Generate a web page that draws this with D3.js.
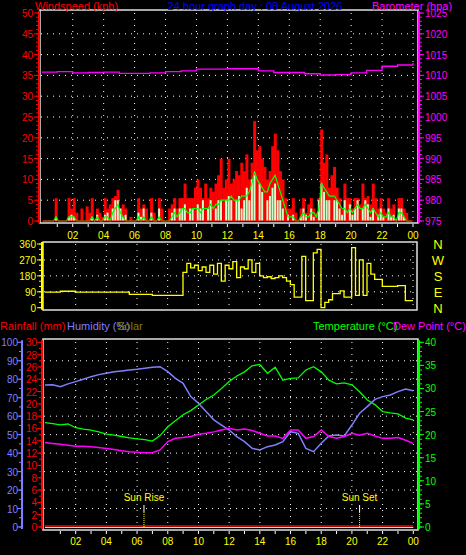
<!DOCTYPE html>
<html><head><meta charset="utf-8">
<script src="https://cdn.jsdelivr.net/npm/d3@7"></script>
<style>body{margin:0;background:#000}svg{display:block}text{font-family:"Liberation Sans",Arial,sans-serif}</style>
</head><body>
<script>
// ---- data ----
const hourLabels = ["02","04","06","08","10","12","14","16","18","20","22","00"];
// wind, 10-minute slots (kph)
const gust = [0,0,0,0,0,5.5, 0,0,0,0,5.5,3, 5.5,2,0,3,0,3.5, 2,5.5,0,3,2,1, 5.5,3,4,5.5,6,7.5, 3,4,3,0,1,0,
 0,5.5,3,4,3,0, 5.5,2,0,5.5,3,0, 0,3,4,5.5,3,5.5, 5.5,9,5.5,5.5,5.5,8, 10,8,5.5,9,5.5,8, 7,9,11,15,8,10,
 15,9,10,12,11,14, 12,16,10,14,24,17, 18,15,13,10,12,18, 21,17,12,10,5.5,3, 3,5.5,2,0,3,5.5, 2,4,5.5,3,2,5.5,
 22,14,16,8,11,13, 8,5.5,3,9,5.5,5.5, 3,5.5,5.5,4,9,5.5, 6,4,9,5.5,3,5.5, 3,2,5.5,3,4,0, 5.5,5.5,3,2,0,0];
const windAvg = [0,0,0,0,0,1, 0,0,0,0,1,1, 1,0,0,0,0,0, 0,1,0,1,0,0, 1,1,0,2,3,4, 2,1,0,0,0,0,
 0,1,0,1,0,0, 1,0,0,1,0,0, 0,0,1,2,1,2, 3,3,2,2,3,3, 3,2,3,3,3,4, 3,4,4,5,5,5,
 5,6,5,5,5,6, 6,6,7,9,12,10, 9,8,7,7,9,10, 11,9,7,5,3,1, 1,1,0,0,1,2, 1,1,2,2,1,3,
 9,8,7,6,6,6, 5,4,3,3,2,3, 2,3,4,3,3,4, 3,2,3,2,1,2, 1,1,2,1,1,0, 2,2,1,0,0,0];
const windSpeed = [0,0,0,0,0,1, 0,0,0,0,1,1.5, 1,0,0,0,0,0, 0,1,0,1.5,0,0, 1.5,2,0,3,5,5, 3,1,1.5,0,0,0,
 0,2,1,3,0,0, 2,0,0,3,0,0, 0,0,2,3,0,3, 3,4,0,3,3,0, 4,3,5,0,3,5, 0,3,5,5,0,5,
 6,5,0,5,6,3, 5,8,5,10,11,0, 9,7,0,5,6,8, 9,5,5,3,0,1.5, 0,1.5,0,0,1,3, 1.5,0,3,1,0,5,
 9,7,5,5,0,5, 5,3,1.5,5,0,4, 1.5,3,5,0,3,5, 4,1,3,0,1.5,3, 1,0,3,1,1.5,0, 3,3,1,0,0,0];
// barometer hourly (hPa)
const pressure = [1010.8,1010.9,1010.6,1010.7,1010.8,1010.5,1010.5,1010.6,1010.9,1011.1,1011.5,1011.5,1011.6,
 1011.6,1011.1,1010.7,1010.7,1010.4,1010.1,1010.2,1010.6,1011.2,1012.2,1012.5,1013.0];
// wind direction, 15-minute slots (deg)
const windDir = [88,88,88,88, 93,93,93,93, 88,88,88,88, 88,88,88,88, 88,88,88,88, 88,88,75,75,
 75,75,75,75, 70,70,70,70, 70,70,70,70, 200,250,225,240, 210,230,200,240, 190,250,150,240,
 220,260,170,230, 220,270,200,250, 180,170,175,165, 170,180,170,150, 130,60,60,290,
 40,40,310,330, 0,30,45,80, 80,95,60,60, 340,70,270,70, 250,190,160,160, 120,120,120,120, 125,125,40,40, 40];
// half-hourly
const temperature = [22.6,22.4,22.1,22.3,21.5,21.2,21.0,20.6,20.1,19.9,19.6,19.3,19.1,18.9,18.6,19.8,21.7,23.0,24.3,25.2,
 26.4,27.6,28.6,30.0,31.5,32.7,33.6,34.9,35.2,33.3,34.6,31.8,32.2,32.3,34.0,34.7,33.6,31.8,31.0,31.2,30.8,29.3,27.5,26.5,25.0,24.7,24.5,23.6,23.2];
const humidity = [76.9,77,76,77.5,78.7,80,81.4,82.5,83.2,84,84.5,85,85.4,86,86.5,86.8,84.1,80.5,77.8,70.6,67,62.5,58,55.2,52.5,
 48.9,46.2,42.6,41.7,43.5,44.4,46.2,51.6,50.7,42.6,40.8,45.3,49.3,49.8,49.3,55.2,61.6,65.2,69.1,70.6,71.5,73.3,74.7,73.8];
const dewPoint = [18.3,18.1,17.9,17.7,17.5,17.5,17.4,17.2,17.0,16.8,16.5,16.3,16.2,16.1,16.1,16.7,18.5,19.2,19.4,19.6,20.1,20.3,20.6,21.0,21.4,
 21.0,21.2,20.9,20.3,19.7,19.7,19.2,21.0,21.0,19.2,19.6,21.0,19.6,19.2,19.6,20.3,19.9,20.3,19.7,19.2,19.2,19.4,18.8,18.1];
const rainfall = [0,0];
const solar = [0,0];

// ---- chart ----
const W=466,H=555;
const svg=d3.select("body").append("svg").attr("width",W).attr("height",H);
const RED="#ff0000",MAG="#ff00ff",BLUE="#0000ff",HUM="#7f7fff",GRN="#00ff00",YEL="#ffff00",LG="#ccffcc",FR="#e0e0e0";
function txt(x,y,s,c,anchor,size){return svg.append("text").attr("x",x).attr("y",y).text(s).attr("fill",c)
  .attr("font-size",size||10).attr("text-anchor",anchor||"start");}
function dotGrid(xs,y0,y1,ys,x0,x1){
  const g=svg.append("g").attr("stroke","#fff").attr("stroke-width",1).attr("stroke-dasharray","1,5");
  xs.forEach(x=>g.append("line").attr("x1",x).attr("x2",x).attr("y1",y0).attr("y2",y1));
  ys.forEach(y=>g.append("line").attr("x1",x0).attr("x2",x1).attr("y1",y).attr("y2",y));
}
function frame(x0,y0,x1,y1){svg.append("rect").attr("x",x0).attr("y",y0).attr("width",x1-x0).attr("height",y1-y0)
  .attr("fill","none").attr("stroke",FR).attr("stroke-width",1.5);}
function vAxis(x,scale,vals,color,side,minor,labelDx){
  svg.append("line").attr("x1",x).attr("x2",x).attr("y1",scale.range()[1]-2).attr("y2",scale.range()[0]+2).attr("stroke",color).attr("stroke-width",2);
  if(minor) minor.forEach(v=>svg.append("line").attr("x1",x+(side<0?-3:0)).attr("x2",x+(side<0?0:3)).attr("y1",scale(v)).attr("y2",scale(v)).attr("stroke",color));
  vals.forEach(v=>{
    svg.append("line").attr("x1",x+(side<0?-5:0)).attr("x2",x+(side<0?0:5)).attr("y1",scale(v)).attr("y2",scale(v)).attr("stroke",color);
    txt(x+labelDx,scale(v)+4,v,color,side<0?"end":"start");
  });
}

// top panel
const xT=d3.scaleLinear([0,24],[41.8,413]);
const yW=d3.scaleLinear([0,50],[221,13]);
const yP=d3.scaleLinear([975,1025],[221,13]);
const gridHours=d3.range(2,25,2);
dotGrid(gridHours.map(xT),13,221,d3.range(5,50,5).map(yW),41,416);
const slot=1/6;
svg.append("g").selectAll("rect").data(gust).join("rect")
  .attr("x",(d,i)=>xT(i*slot)).attr("width",xT(slot)-xT(0)+0.4)
  .attr("y",d=>yW(d)).attr("height",d=>yW(0)-yW(d)).attr("fill",RED);
svg.append("g").selectAll("rect").data(windSpeed).join("rect")
  .attr("x",(d,i)=>xT(i*slot)+0.3).attr("width",xT(slot)-xT(0)-0.6)
  .attr("y",d=>yW(d)).attr("height",d=>yW(0)-yW(d)).attr("fill",LG);
svg.append("path").datum(windAvg).attr("fill","none").attr("stroke",GRN).attr("stroke-width",1.2)
  .attr("d",d3.line().x((d,i)=>xT(i*slot+slot/2)).y(d=>yW(d)));
svg.append("line").attr("x1",xT(0)).attr("x2",xT(24)).attr("y1",yW(0)).attr("y2",yW(0)).attr("stroke",RED);
svg.append("path").datum(pressure).attr("fill","none").attr("stroke",MAG).attr("stroke-width",1.3)
  .attr("d",d3.line().x((d,i)=>xT(i)).y(d=>yP(d)).curve(d3.curveStepAfter));
frame(40,10,418,223);
vAxis(39,yW,d3.range(0,51,5),RED,-1,d3.range(0,51,1),-6);
vAxis(419,yP,d3.range(975,1026,5),MAG,1,d3.range(975,1026,1),6);
d3.range(1,25).forEach(h=>svg.append("line").attr("x1",xT(h)).attr("x2",xT(h)).attr("y1",224).attr("y2",227).attr("stroke","#fff"));
hourLabels.forEach((s,i)=>txt(xT((i+1)*2),239,s,YEL,"middle"));
txt(35,10,"Windspeed (kph)",RED,"start",11);
txt(255,10,"24 hour graph day : 08 August 2026",BLUE,"middle",11);
txt(372,10,"Barometer (hpa)",MAG,"start",11);

// wind direction panel
const xD=d3.scaleLinear([0,24],[45,413]);
const yD=d3.scaleLinear([0,360],[307.7,244]);
dotGrid(gridHours.map(xD),244,308,[90,180,270].map(yD),44,416);
svg.append("path").datum(windDir).attr("fill","none").attr("stroke",YEL).attr("stroke-width",1.3)
  .attr("d",d3.line().x((d,i)=>xD(i*0.25)).y(d=>yD(d)).curve(d3.curveStepAfter));
frame(43,242,417,310);
vAxis(42,yD,[0,90,180,270,360],YEL,-1,d3.range(0,361,30),-6);
["N","W","S","E","N"].forEach((s,i)=>txt(438,249+i*16,s,YEL,"middle",13));

// bottom panel
const xB=d3.scaleLinear([0,24],[45,413.3]);
const yT=d3.scaleLinear([0,40],[527,342.3]);
const yH=d3.scaleLinear([0,100],[527,342.3]);
const yR=d3.scaleLinear([0,30],[527,342.3]);
dotGrid(gridHours.map(xB),342,527,d3.range(10,100,10).map(yH),44,417);
const half=d3.line().x((d,i)=>xB(i*0.5)).y(d=>yT(d));
svg.append("path").datum(temperature).attr("fill","none").attr("stroke",GRN).attr("stroke-width",1.3).attr("d",half);
svg.append("path").datum(humidity).attr("fill","none").attr("stroke",HUM).attr("stroke-width",1.5)
  .attr("d",d3.line().x((d,i)=>xB(i*0.5)).y(d=>yH(d)));
svg.append("path").datum(dewPoint).attr("fill","none").attr("stroke",MAG).attr("stroke-width",1.5).attr("d",half);
svg.append("line").attr("x1",xB(0)).attr("x2",xB(24)).attr("y1",yR(rainfall[0])-1).attr("y2",yR(rainfall[1])-1).attr("stroke",RED).attr("stroke-width",1.5);
svg.append("line").attr("x1",xB(0)).attr("x2",xB(24)).attr("y1",yR(solar[0])+0.5).attr("y2",yR(solar[1])+0.5).attr("stroke",YEL).attr("stroke-width",1.2);
frame(43,339,418,530);
vAxis(22,yH,d3.range(0,101,10),HUM,-1,d3.range(0,101,5),-4);
vAxis(42,yR,d3.range(0,31,2),RED,-1,d3.range(0,31,1),-5);
vAxis(419,yT,d3.range(0,41,5),GRN,1,d3.range(0,41,1),6);
d3.range(1,25).forEach(h=>svg.append("line").attr("x1",xB(h)).attr("x2",xB(h)).attr("y1",531).attr("y2",534).attr("stroke","#fff"));
hourLabels.forEach((s,i)=>txt(xB((i+1)*2),545,s,YEL,"middle"));
[[6.45,"Sun Rise"],[20.5,"Sun Set"]].forEach(([t,s])=>{
  txt(xB(t),501,s,YEL,"middle",10);
  svg.append("line").attr("x1",xB(t)).attr("x2",xB(t)).attr("y1",505).attr("y2",512).attr("stroke","#fff");
  svg.append("line").attr("x1",xB(t)).attr("x2",xB(t)).attr("y1",512).attr("y2",527).attr("stroke",YEL).attr("stroke-dasharray","1,1");
});
txt(0,330,"Rainfall (mm)",RED,"start",11);
txt(67,330,"Humidity (%)",HUM,"start",11);
txt(117,330,"Solar",'#808000',"start",11);
txt(313,330,"Temperature (°C)",GRN,"start",11);
txt(393,330,"Dew Point (°C)",MAG,"start",11);
</script>
</body></html>
